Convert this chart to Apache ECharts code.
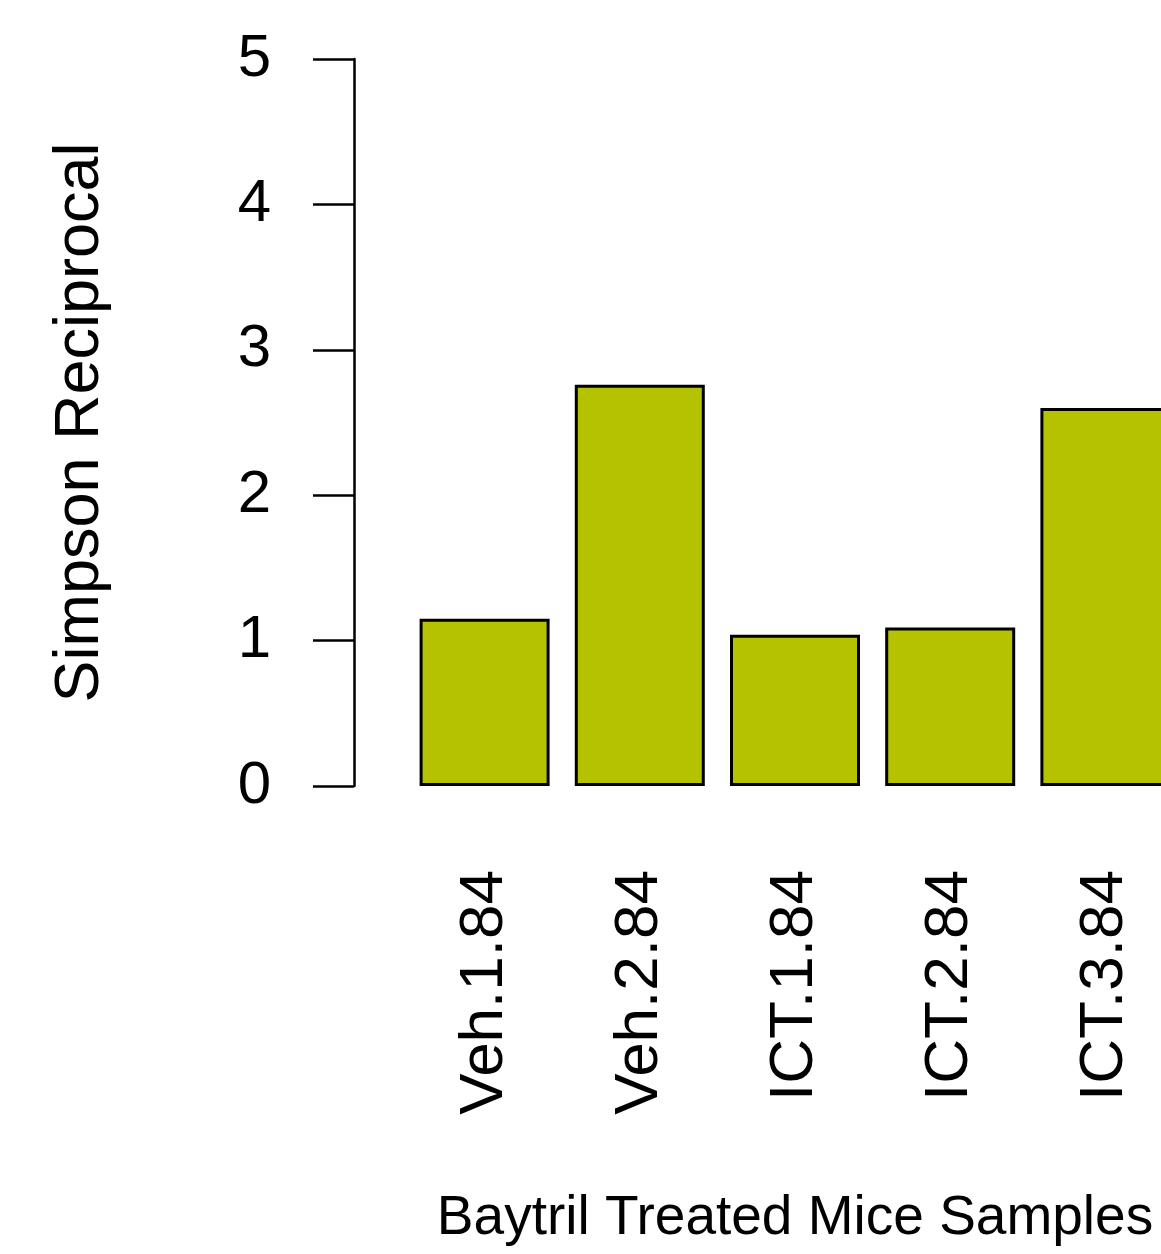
<!DOCTYPE html>
<html>
<head>
<meta charset="utf-8">
<title>Simpson Reciprocal – Baytril Treated Mice Samples</title>
<script src="https://cdn.jsdelivr.net/npm/echarts@6/dist/echarts.min.js"></script>
<style>
  html, body { margin: 0; padding: 0; background: #ffffff; }
  #chart { width: 1161px; height: 1254px; }
</style>
</head>
<body>
<div id="chart"></div>
<script>
// Sample names along the x axis
const samples = ['Veh.1.84', 'Veh.2.84', 'ICT.1.84', 'ICT.2.84', 'ICT.3.84'];
// Simpson reciprocal diversity per sample
const simpsonReciprocal = [1.15, 2.76, 1.04, 1.09, 2.60];
// Y axis range and step
const yTicks = [0, 1, 2, 3, 4, 5];

const FONT = '"Liberation Sans", Arial, Helvetica, sans-serif';
const INK = '#000000';

const chart = echarts.init(document.getElementById('chart'), null, { renderer: 'canvas' });

chart.setOption({
  backgroundColor: '#ffffff',
  animation: false,
  grid: {
    left: 407,
    top: 59,
    width: 776,
    height: 727,
    containLabel: false,
    outerBoundsMode: 'none'
  },
  xAxis: {
    type: 'category',
    data: samples,
    boundaryGap: true,
    axisLine: { show: false },
    axisTick: { show: false },
    axisLabel: {
      rotate: 90,
      margin: 84,
      fontFamily: FONT,
      fontSize: 62,
      color: INK
    },
    name: 'Baytril Treated Mice Samples',
    nameLocation: 'middle',
    nameGap: 405,
    nameTextStyle: {
      fontFamily: FONT,
      fontSize: 55,
      color: INK
    }
  },
  yAxis: {
    type: 'value',
    min: yTicks[0],
    max: yTicks[yTicks.length - 1],
    interval: yTicks[1] - yTicks[0],
    offset: 53,
    splitLine: { show: false },
    axisLine: { show: true, lineStyle: { color: INK, width: 2.5 } },
    axisTick: { show: true, length: 41, lineStyle: { color: INK, width: 2.5 } },
    axisLabel: {
      margin: 83,
      fontFamily: FONT,
      fontSize: 60,
      color: INK
    },
    name: 'Simpson Reciprocal',
    nameLocation: 'middle',
    nameGap: 242,
    nameRotate: 90,
    nameTextStyle: {
      fontFamily: FONT,
      fontSize: 63,
      color: INK
    }
  },
  series: [{
    type: 'bar',
    data: simpsonReciprocal,
    barWidth: 130,
    itemStyle: {
      color: '#b5c200',
      borderColor: INK,
      borderWidth: 3
    }
  }]
});
</script>
</body>
</html>
